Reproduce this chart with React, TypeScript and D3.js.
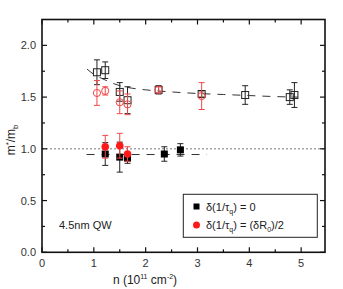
import * as React from "react";
import * as d3 from "d3";

// open symbols (upper branch)
const sqOpenN = [1.06, 1.22, 1.5, 1.65, 2.25, 3.08, 3.92, 4.78, 4.87];
const sqOpenM = [1.74, 1.76, 1.55, 1.47, 1.57, 1.53, 1.52, 1.5, 1.52];
const sqOpenErr = [0.12, 0.08, 0.09, 0.13, 0.04, 0.03, 0.09, 0.07, 0.12];

const ciOpenN = [1.06, 1.22, 1.5, 1.65, 2.25, 3.08];
const ciOpenM = [1.54, 1.56, 1.45, 1.43, 1.57, 1.51];
const ciOpenErr = [0.12, 0.04, 0.11, 0.1, 0.03, 0.13];

// filled symbols (lower branch)
const sqFillN = [1.22, 1.5, 1.65, 2.36, 2.67];
const sqFillM = [0.95, 0.92, 0.91, 0.95, 0.99];
const sqFillErr = [0.11, 0.145, 0.05, 0.07, 0.06];

const ciFillN = [1.22, 1.5, 1.65];
const ciFillM = [1.02, 1.03, 0.95];
const ciFillErr = [0.11, 0.12, 0.07];

// dashed fit curves
const fitUpN = [0.87, 1.0, 1.2, 1.5, 1.75, 2.0, 2.5, 3.0, 3.5, 4.0, 4.5, 4.94];
const fitUpM = [1.77, 1.72, 1.67, 1.61, 1.585, 1.57, 1.55, 1.535, 1.525, 1.515, 1.505, 1.5];
const fitLowN = [0.86, 3.18];
const fitLowM = [0.945, 0.945];

const xTicks = [0, 1, 2, 3, 4, 5];
const yTicks = [0.0, 0.5, 1.0, 1.5, 2.0];

const W = 343, H = 289;
const L = 42, R = 325, T = 19.5, B = 252.3;
const RED = "#ff1a1a";
const ERRRED = "#f04848";

export default function App() {
  const x = d3.scaleLinear().domain([0, 5.46]).range([L, R]);
  const y = d3.scaleLinear().domain([0, 2.25]).range([B, T]);
  const path = (ns: number[], ms: number[]) =>
    d3.line<number>().x(d => x(d)).y((d, i) => y(ms[i])).curve(d3.curveMonotoneX)(ns) || "";

  const font = "'Liberation Sans', Arial, sans-serif";
  const minorX = d3.range(0, 5.5, 0.5);
  const minorY = d3.range(0, 2.25, 0.25);

  const errBars = (ns: number[], ms: number[], es: number[], color: string, key: string) =>
    ns.map((n, i) => {
      const cx = x(n), y1 = y(ms[i] + es[i]), y2 = y(ms[i] - es[i]);
      return (
        <g key={key + i} stroke={color} strokeWidth={1}>
          <line x1={cx} x2={cx} y1={y1} y2={y2} />
          <line x1={cx - 3} x2={cx + 3} y1={y1} y2={y1} />
          <line x1={cx - 3} x2={cx + 3} y1={y2} y2={y2} />
        </g>
      );
    });

  return (
    <svg width={W} height={H} style={{ position: "absolute", left: 0, top: 0 }} fontFamily={font}>
      <rect width={W} height={H} fill="#fff" />
      {/* reference line at effective mass ratio 1 */}
      <line x1={L} x2={R} y1={y(1)} y2={y(1)} stroke="#555" strokeWidth={0.8} strokeDasharray="2,2" />
      {/* fits */}
      <path d={path(fitUpN, fitUpM)} fill="none" stroke="#333" strokeWidth={1} strokeDasharray="8,7" />
      <path d={path(fitLowN, fitLowM)} fill="none" stroke="#333" strokeWidth={1} strokeDasharray="8,7" />

      {/* upper: open squares then open circles */}
      {errBars(sqOpenN, sqOpenM, sqOpenErr, "#222", "eso")}
      {sqOpenN.map((n, i) => (
        <rect key={"so" + i} x={x(n) - 3.5} y={y(sqOpenM[i]) - 3.5} width={7} height={7} fill="none" stroke="#222" strokeWidth={1} />
      ))}
      {errBars(ciOpenN, ciOpenM, ciOpenErr, ERRRED, "eco")}
      {ciOpenN.map((n, i) => (
        <circle key={"co" + i} cx={x(n)} cy={y(ciOpenM[i])} r={3.6} fill="none" stroke={ERRRED} strokeWidth={1} />
      ))}

      {/* lower: filled squares then filled circles */}
      {errBars(sqFillN, sqFillM, sqFillErr, "#222", "esf")}
      {sqFillN.map((n, i) => (
        <rect key={"sf" + i} x={x(n) - 3.5} y={y(sqFillM[i]) - 3.5} width={7} height={7} fill="#000" />
      ))}
      {errBars(ciFillN, ciFillM, ciFillErr, ERRRED, "ecf")}
      {ciFillN.map((n, i) => (
        <circle key={"cf" + i} cx={x(n)} cy={y(ciFillM[i])} r={3.8} fill={RED} />
      ))}

      {/* frame and ticks */}
      <rect x={L} y={T} width={R - L} height={B - T} fill="none" stroke="#111" strokeWidth={1.6} />
      {minorX.map(v => {
        const major = Number.isInteger(v);
        const len = major ? 5 : 3;
        return (
          <g key={"tx" + v} stroke="#111" strokeWidth={1.2}>
            <line x1={x(v)} x2={x(v)} y1={B} y2={B - len} />
            <line x1={x(v)} x2={x(v)} y1={T} y2={T + len} />
          </g>
        );
      })}
      {minorY.map(v => {
        const major = Math.abs(v * 2 - Math.round(v * 2)) < 1e-6;
        const len = major ? 5 : 3;
        return (
          <g key={"ty" + v} stroke="#111" strokeWidth={1.2}>
            <line x1={L} x2={L + len} y1={y(v)} y2={y(v)} />
            <line x1={R} x2={R - len} y1={y(v)} y2={y(v)} />
          </g>
        );
      })}
      {xTicks.map(v => (
        <text key={"lx" + v} x={x(v)} y={B + 15} textAnchor="middle" fontSize={11} fill="#333">{v}</text>
      ))}
      {yTicks.map(v => (
        <text key={"ly" + v} x={L - 6} y={y(v) + 4} textAnchor="end" fontSize={11} fill="#333">{v.toFixed(1)}</text>
      ))}

      {/* axis titles */}
      <text x={145} y={284} textAnchor="middle" fontSize={12} fill="#222">
        n (10<tspan fontSize={7} dy={-5}>11</tspan><tspan dy={5}> cm</tspan><tspan fontSize={7} dy={-5}>-2</tspan><tspan dy={5}>)</tspan>
      </text>
      <text transform={`translate(15,${(T + B) / 2 + 4}) rotate(-90)`} textAnchor="middle" fontSize={12} fill="#222">
        m<tspan fontSize={8} dy={-4}>*</tspan><tspan dy={4}>/m</tspan><tspan fontSize={8} dy={3}>b</tspan>
      </text>

      <text x={59} y={229} fontSize={11} fill="#222">4.5nm QW</text>

      {/* legend */}
      <rect x={183.3} y={194.3} width={134} height={43} fill="#fff" stroke="#222" strokeWidth={1} />
      <rect x={193.5} y={203.5} width={6} height={6} fill="#000" />
      <text x={206} y={210.5} fontSize={11} fill="#222">
        δ(1/τ<tspan fontSize={7} dy={3}>q</tspan><tspan dy={-3}>) = 0</tspan>
      </text>
      <circle cx={196.5} cy={225} r={3.5} fill={RED} />
      <text x={206} y={229} fontSize={11} fill="#222">
        δ(1/τ<tspan fontSize={7} dy={3}>q</tspan><tspan dy={-3}>) = (δR</tspan><tspan fontSize={7} dy={3}>0</tspan><tspan dy={-3}>)/2</tspan>
      </text>
    </svg>
  );
}
